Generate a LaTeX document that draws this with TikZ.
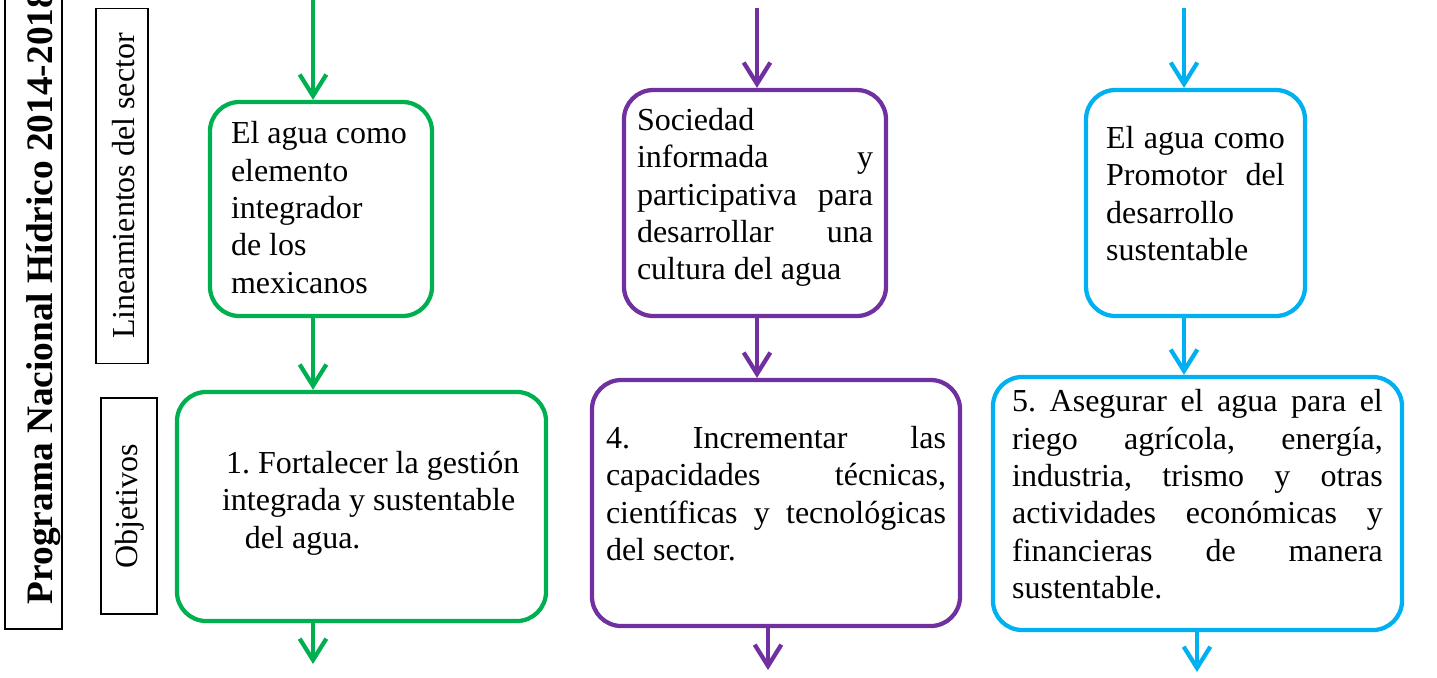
\documentclass[tikz,border=0pt]{standalone}
\usepackage{fontspec}
\setmainfont{Liberation Serif}
\usetikzlibrary{arrows.meta}
\definecolor{verde}{RGB}{0,176,80}
\definecolor{morado}{RGB}{112,48,160}
\definecolor{azul}{RGB}{0,176,240}
\frenchspacing

\begin{document}
\begin{tikzpicture}[x=0.375pt,y=-0.375pt]
\tikzset{every node/.style={font=\fontsize{12}{14}\selectfont}}
\tikzset{etiqueta/.style={draw=black,line width=0.6pt,rotate=90,inner xsep=0pt,inner ysep=0pt}}
\tikzset{caja/.style={draw,line width=1.6pt,rounded corners=11pt,inner sep=0pt,align=justify,text=black,execute at end node={\par\vspace{#1}}},caja/.default=7pt}
\tikzset{flecha/.style={line width=1.6pt,-{Straight Barb[length=8pt,width=10pt]}}}
\useasboundingbox (0,0) rectangle (1437,677);
\clip (0,0) rectangle (1437,677);
\node[etiqueta,anchor=west,inner xsep=9.4pt,text height=18pt,text depth=3.4pt,font=\fontsize{14}{16}\selectfont\bfseries] (programa) at (33.5,630) {Programa Nacional Hídrico 2014-2018};
\node[etiqueta,minimum width=133pt,text height=14.6pt,text depth=4.9pt] (lineamientos) at (122,186) {Lineamientos del sector};
\node[etiqueta,minimum width=81pt,text height=13.5pt,text depth=7.5pt] (objetivos) at (129,506) {Objetivos};
\node[caja=1pt,draw=verde,minimum width=83.25pt,minimum height=80.25pt,text width=67.5pt] (lverde) at (321,209)
  {El agua como\newline elemento\newline integrador\newline de los\newline mexicanos};
\node[caja=2.5pt,draw=verde,minimum width=138.4pt,minimum height=85.9pt,text width=120pt] (overde) at (361.5,506.5)
  {\hspace*{9.2pt}1. Fortalecer la gestión\newline\hspace*{7.7pt}integrada y sustentable\newline\hspace*{16.3pt}del agua.};
\node[caja=4pt,draw=morado,minimum width=98.25pt,minimum height=84.75pt,text width=88.5pt] (lmorado) at (755,203)
  {Sociedad\newline informada y\linebreak participativa para\linebreak desarrollar una\linebreak cultura del agua};
\node[caja,draw=morado,minimum width=138pt,minimum height=92.25pt,text width=127.5pt] (omorado) at (776,503)
  {4. Incrementar las\linebreak capacidades técnicas,\linebreak científicas y tecnológicas\linebreak del sector.};
\node[caja,draw=azul,minimum width=82.1pt,minimum height=84.75pt,text width=67pt] (lazul) at (1195.5,203)
  {El agua como\linebreak Promotor del\linebreak desarrollo\newline sustentable};
\node[caja,draw=azul,minimum width=153.4pt,minimum height=94.9pt,text width=139pt] (oazul) at (1197.5,503.5)
  {5. Asegurar el agua para el\linebreak riego agrícola, energía,\linebreak industria, trismo y otras\linebreak actividades económicas y\linebreak financieras de manera\linebreak sustentable.};
\coordinate (vtop) at (313,-5);
\coordinate (vbot) at (313,664);
\coordinate (mtop) at (757,8);
\coordinate (mbot) at (768,670);
\coordinate (atop) at (1184,8);
\coordinate (abot) at (1197,672);
\draw[flecha,verde] (vtop) -- (vtop |- lverde.north);
\draw[flecha,verde] (vtop |- lverde.south) -- (vtop |- overde.north);
\draw[flecha,verde] (vbot |- overde.south) -- (vbot);
\draw[flecha,morado] (mtop) -- (mtop |- lmorado.north);
\draw[flecha,morado] (mtop |- lmorado.south) -- (mtop |- omorado.north);
\draw[flecha,morado] (mbot |- omorado.south) -- (mbot);
\draw[flecha,azul] (atop) -- (atop |- lazul.north);
\draw[flecha,azul] (atop |- lazul.south) -- (atop |- oazul.north);
\draw[flecha,azul] (abot |- oazul.south) -- (abot);
\end{tikzpicture}
\end{document}
